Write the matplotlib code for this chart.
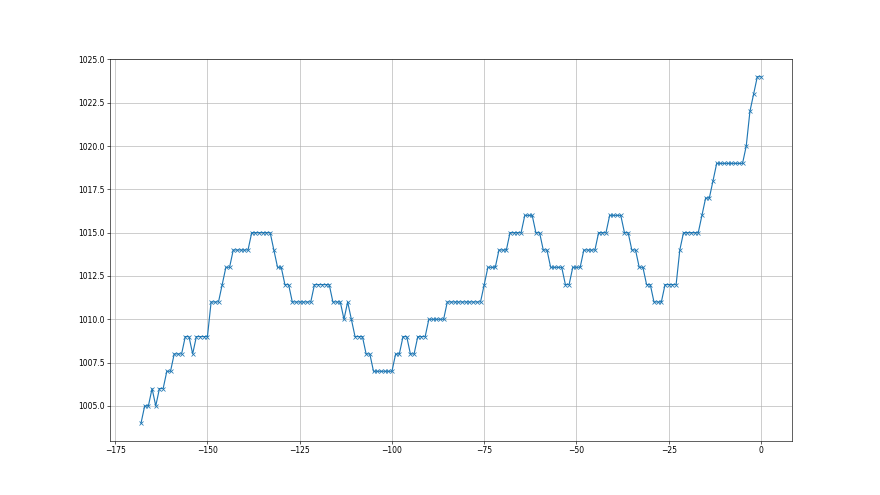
import matplotlib
matplotlib.use("Agg")
import matplotlib.pyplot as plt

# hours before now, one reading per hour
hours = list(range(-168, 1))

# pressure in hPa
pressure = [
    1004, 1005, 1005, 1006, 1005, 1006, 1006, 1007, 1007, 1008,   # -168 .. -159
    1008, 1008, 1009, 1009, 1008, 1009, 1009, 1009, 1009, 1011,   # -158 .. -149
    1011, 1011, 1012, 1013, 1013, 1014, 1014, 1014, 1014, 1014,   # -148 .. -139
    1015, 1015, 1015, 1015, 1015, 1015, 1014, 1013, 1013, 1012,   # -138 .. -129
    1012, 1011, 1011, 1011, 1011, 1011, 1011, 1012, 1012, 1012,   # -128 .. -119
    1012, 1012, 1011, 1011, 1011, 1010, 1011, 1010, 1009, 1009,   # -118 .. -109
    1009, 1008, 1008, 1007, 1007, 1007, 1007, 1007, 1007, 1008,   # -108 .. -99
    1008, 1009, 1009, 1008, 1008, 1009, 1009, 1009, 1010, 1010,   # -98 .. -89
    1010, 1010, 1010, 1011, 1011, 1011, 1011, 1011, 1011, 1011,   # -88 .. -79
    1011, 1011, 1011, 1012, 1013, 1013, 1013, 1014, 1014, 1014,   # -78 .. -69
    1015, 1015, 1015, 1015, 1016, 1016, 1016, 1015, 1015, 1014,   # -68 .. -59
    1014, 1013, 1013, 1013, 1013, 1012, 1012, 1013, 1013, 1013,   # -58 .. -49
    1014, 1014, 1014, 1014, 1015, 1015, 1015, 1016, 1016, 1016,   # -48 .. -39
    1016, 1015, 1015, 1014, 1014, 1013, 1013, 1012, 1012, 1011,   # -38 .. -29
    1011, 1011, 1012, 1012, 1012, 1012, 1014, 1015, 1015, 1015,   # -28 .. -19
    1015, 1015, 1016, 1017, 1017, 1018, 1019, 1019, 1019, 1019,   # -18 .. -9
    1019, 1019, 1019, 1019, 1020, 1022, 1023, 1024, 1024,         # -8 .. 0
]

fig, ax = plt.subplots(figsize=(16, 9), dpi=55)
ax.plot(hours, pressure, marker="x", color="#1f77b4", linewidth=1.5, markersize=6)
ax.grid(True)

fig.savefig("out.png", dpi=55)
